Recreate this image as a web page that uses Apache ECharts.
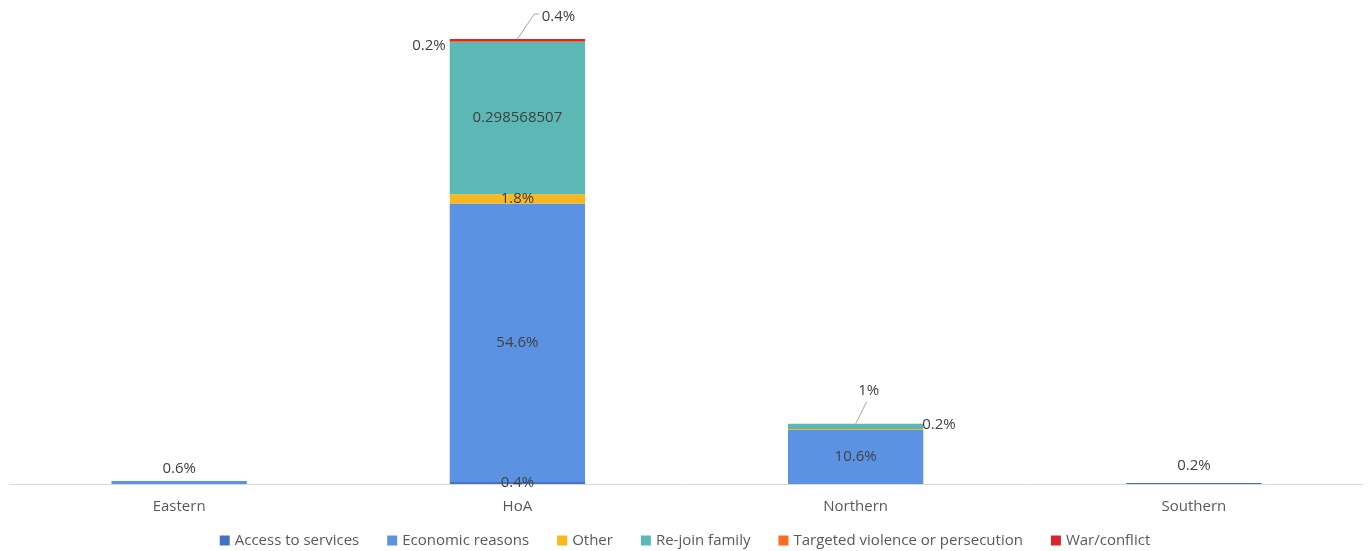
<!DOCTYPE html>
<html><head><meta charset="utf-8">
<script src="https://cdn.jsdelivr.net/npm/echarts@6/dist/echarts.min.js"></script>
<style>html,body{margin:0;padding:0;background:#fff}#c{width:1370px;height:551px}</style>
</head><body><div id="c"></div>
<script>
const categories = ['Eastern', 'HoA', 'Northern', 'Southern'];
const seriesNames = ['Access to services', 'Economic reasons', 'Other', 'Re-join family', 'Targeted violence or persecution', 'War/conflict'];
const access = [null, 0.004, null, 0.002];
const economic = [0.006, 0.546, 0.106, null];
const other = [null, 0.018, 0.002, null];
const rejoin = [null, 0.298568507, 0.01, null];
const targeted = [null, 0.002, null, null];
const war = [null, 0.004, null, null];
const colors = ['#4472c4', '#5b93e2', '#fbb81c', '#5bb8b4', '#fe6b1e', '#d9252f'];

const FONT = 'Open Sans';
function pct(v) { return +(v * 100).toFixed(1) + '%'; }
const values = [access, economic, other, rejoin, targeted, war];

// label placement per series per category (styling)
const labelCfg = [
  [null, {position: 'inside'}, null, {position: 'top', distance: 10}],
  [{position: 'top', distance: 5}, {position: 'inside'}, {position: 'inside'}, null],
  [null, {position: 'inside'}, {position: 'right', distance: -2, dx: 1, dy: -5}, null],
  [null, {position: 'inside', raw: true}, {position: 'top', distance: 2, dx: 13, dy: -24}, null],
  [null, {position: 'left', distance: 4, dx: 0, dy: 4}, null, null],
  [null, {position: 'top', distance: 2, dx: 41, dy: -13}, null, null]
];
// leader lines: [seriesIndex, categoryIndex, elbow dx, elbow dy, tail]
const leaders = [[5, 1, 17, -25, 5], [3, 2, 11, -22, 0]];

function stackTop(si, ci) {
  let s = 0;
  for (let k = 0; k <= si; k++) s += values[k][ci] || 0;
  return s;
}

const series = seriesNames.map((name, si) => ({
  name, type: 'bar', stack: 'total', barWidth: '40%',
  itemStyle: {color: colors[si]},
  data: values[si].map((v, ci) => {
    const cfg = labelCfg[si][ci];
    if (v == null) return {value: v};
    return {
      value: v,
      label: {
        show: true, position: cfg.position, distance: cfg.distance == null ? 5 : cfg.distance,
        color: '#404040', fontSize: 15, fontFamily: FONT,
        formatter: cfg.raw ? String(v) : pct(v)
      }
    };
  }),
  labelLine: {show: false},
  labelLayout: function (p) {
    const cfg = labelCfg[si][p.dataIndex];
    if (cfg && cfg.dx != null) return {dx: cfg.dx, dy: cfg.dy};
    return {};
  }
}));

series.push({
  type: 'custom', silent: true, z: 10,
  data: leaders.map(l => [l[1], stackTop(l[0], l[1]), l[2], l[3], l[4]]),
  encode: {x: 0, y: 1},
  renderItem: function (params, api) {
    const p = api.coord([api.value(0), api.value(1)]);
    const e = [p[0] + api.value(2), p[1] + api.value(3)];
    const pts = [p, e];
    if (api.value(4)) pts.push([e[0] + api.value(4), e[1]]);
    return {type: 'polyline', shape: {points: pts}, style: {stroke: '#a6a6a6', lineWidth: 1, fill: null}};
  }
});

const chart = echarts.init(document.getElementById('c'));
chart.setOption({
  animation: false,
  color: colors,
  grid: {left: 10, right: 7, top: 25, bottom: 67, containLabel: false},
  xAxis: {
    type: 'category', data: categories,
    axisLine: {lineStyle: {color: '#d9d9d9'}}, axisTick: {show: false},
    axisLabel: {color: '#595959', fontSize: 15, fontFamily: FONT, margin: 15}
  },
  yAxis: {type: 'value', min: 0, max: 0.9, show: false, splitLine: {show: false}},
  legend: {
    data: seriesNames,
    bottom: -2, left: 'center', itemWidth: 10, itemHeight: 10, itemGap: 28, icon: 'rect',
    textStyle: {color: '#595959', fontSize: 15, fontFamily: FONT}
  },
  series
});
</script></body></html>
